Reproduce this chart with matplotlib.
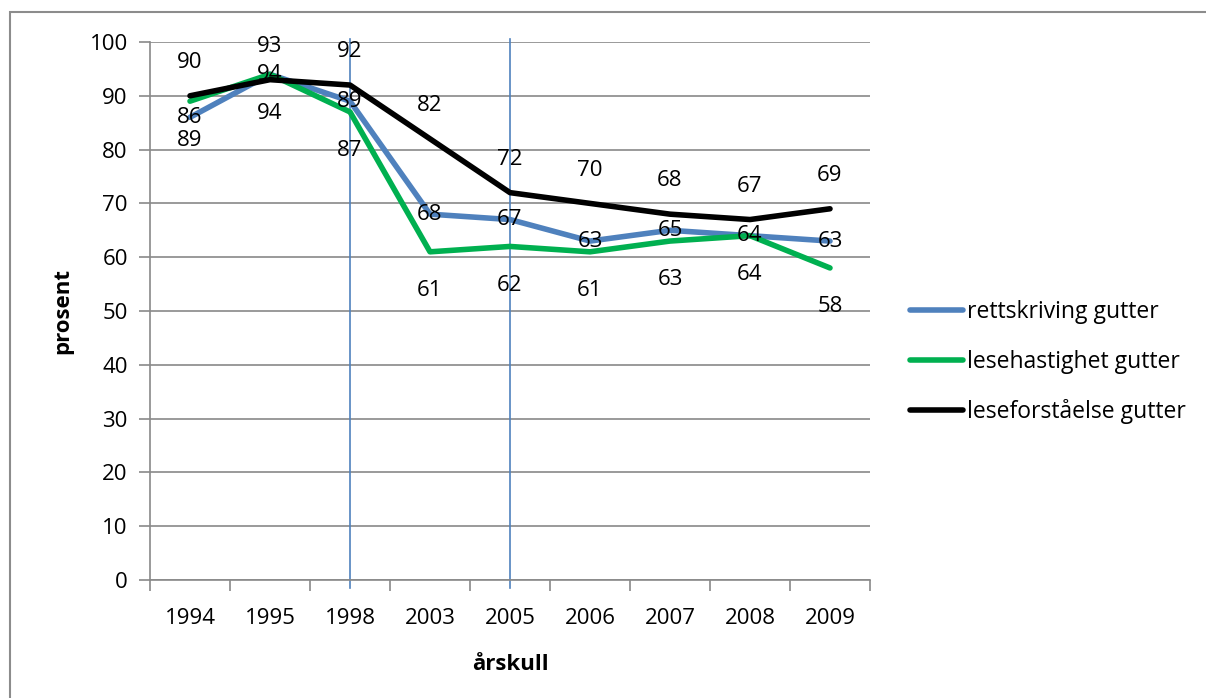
import matplotlib
matplotlib.use("Agg")
import matplotlib.pyplot as plt
from matplotlib.patches import Rectangle

plt.rcParams['font.family'] = ['Open Sans', 'DejaVu Sans']

years = ["1994", "1995", "1998", "2003", "2005", "2006", "2007", "2008", "2009"]
rettskriving = [86, 94, 89, 68, 67, 63, 65, 64, 63]
lesehastighet = [89, 94, 87, 61, 62, 61, 63, 64, 58]
leseforstaelse = [90, 93, 92, 82, 72, 70, 68, 67, 69]
series_names = ["rettskriving gutter", "lesehastighet gutter", "leseforståelse gutter"]
marked_years = ["1998", "2005"]

fig = plt.figure(figsize=(12.06, 6.98), dpi=100)
ax = fig.add_axes([150 / 1206, 1 - 580 / 698, 720 / 1206, 538 / 698])

x = list(range(len(years)))
blue, green, black = "#4F81BD", "#00B050", "#000000"
ax.plot(x, rettskriving, color=blue, lw=4, solid_capstyle='round', label=series_names[0], zorder=3)
ax.plot(x, lesehastighet, color=green, lw=4, solid_capstyle='round', label=series_names[1], zorder=3)
ax.plot(x, leseforstaelse, color=black, lw=4, solid_capstyle='round', label=series_names[2], zorder=4)

fs = 16
for xi, v in zip(x, rettskriving):
    ax.annotate(str(v), (xi, v), ha='center', va='center', fontsize=fs, zorder=5)
for xi, v in zip(x, lesehastighet):
    ax.annotate(str(v), (xi, v), xytext=(0, -28), textcoords='offset points',
                ha='center', va='center', fontsize=fs, zorder=5)
for xi, v in zip(x, leseforstaelse):
    ax.annotate(str(v), (xi, v), xytext=(0, 24), textcoords='offset points',
                ha='center', va='center', fontsize=fs, zorder=5)

for yr in marked_years:
    ax.axvline(years.index(yr), ymin=-0.015, ymax=1.005, color=blue, lw=1.2, zorder=2, clip_on=False)

ax.set_xlim(-0.5, len(years) - 0.5)
ax.set_ylim(0, 100)
ax.set_yticks(range(0, 101, 10))
ax.set_xticks([i - 0.5 for i in range(len(years) + 1)], minor=False)
ax.set_xticklabels([])
ax.set_xticks(x, minor=True)
ax.set_xticklabels(years, minor=True, fontsize=fs)
ax.tick_params(axis='x', which='minor', length=0, pad=20)
ax.tick_params(axis='x', which='major', length=8, color='#898989', width=1.2)
ax.tick_params(axis='y', length=8, color='#898989', width=1.2, labelsize=fs, pad=8)
ax.grid(axis='y', color='#898989', lw=1.2, zorder=0)
ax.set_axisbelow(True)
for s in ('top', 'right'):
    ax.spines[s].set_visible(False)
for s in ('left', 'bottom'):
    ax.spines[s].set_color('#898989')
    ax.spines[s].set_linewidth(1.2)

ax.set_ylabel("prosent", fontsize=fs, fontweight='bold', labelpad=12)
ax.set_xlabel("årskull", fontsize=fs, fontweight='bold', labelpad=18)

leg = fig.legend(loc='upper left', bbox_to_anchor=(910 / 1206, 1 - 300 / 698), frameon=False,
                 fontsize=16.5, handlelength=2.3, handletextpad=0.2, labelspacing=1.12,
                 borderpad=0, borderaxespad=0)
for ln in leg.get_lines():
    ln.set_solid_capstyle('round')

fig.patches.append(Rectangle((10 / 1206, -20 / 698), 1220 / 1206, 706 / 698, transform=fig.transFigure,
                             fill=False, edgecolor='#8c8c8c', lw=1.5))

fig.savefig("out.png", dpi=100)
